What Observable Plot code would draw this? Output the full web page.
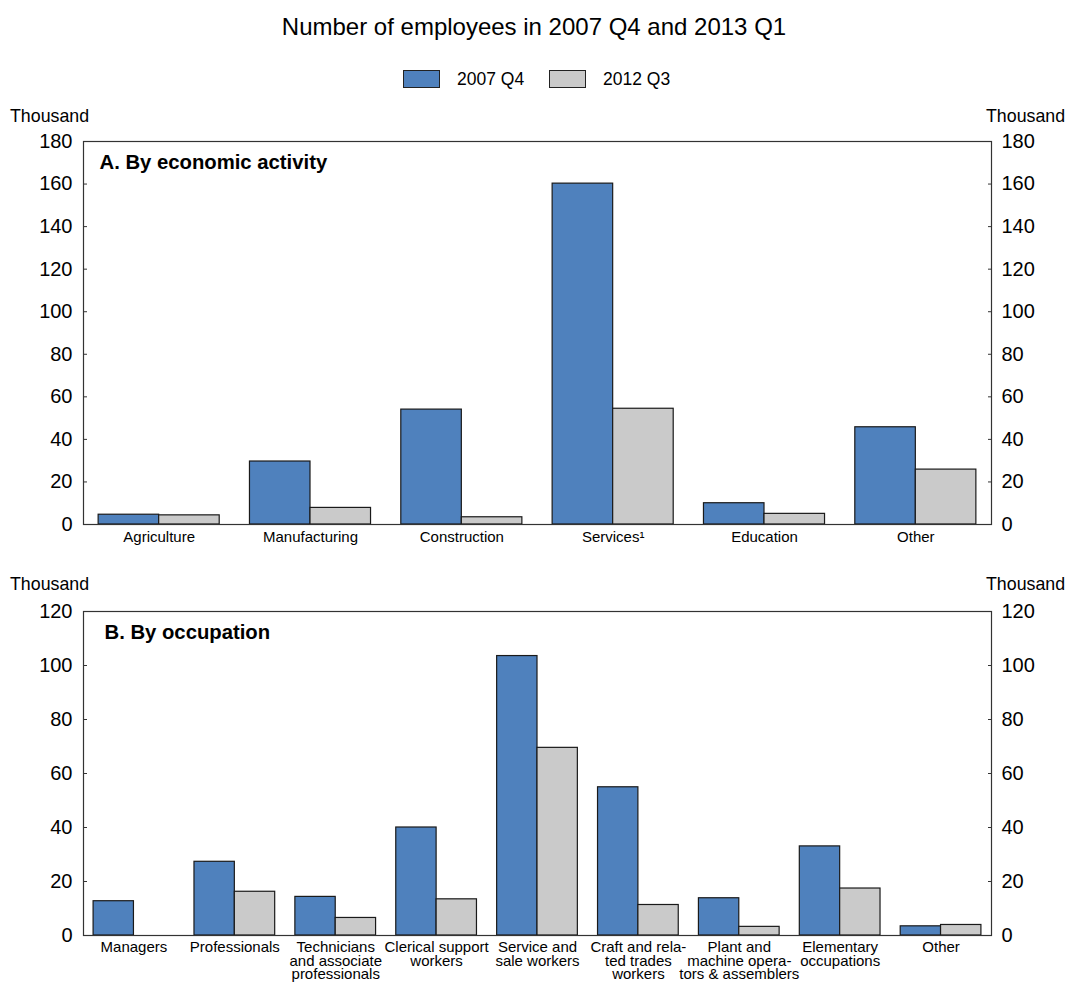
<!DOCTYPE html>
<html>
<head>
<meta charset="utf-8">
<script src="https://cdn.jsdelivr.net/npm/d3@7"></script>
<script src="https://cdn.jsdelivr.net/npm/@observablehq/plot@0.6"></script>
<style>
  html, body { margin: 0; padding: 0; background: #fff; }
  body { width: 1068px; height: 982px; position: relative; font-family: "Liberation Sans", Arial, sans-serif; color: #000; }
  .abs { position: absolute; white-space: nowrap; z-index: 2; }
  #title { left: 0; width: 1068px; top: 13px; text-align: center; font-size: 24px; }
  .sw { position: absolute; width: 37px; height: 18px; border: 1px solid #222; box-sizing: border-box; z-index: 2; }
  .lg { font-size: 17.5px; }
  .unit { font-size: 17.8px; }
  #p1, #p2 { position: absolute; left: 0; z-index: 1; }
  #p1 { top: 100px; }
  #p2 { top: 570px; }
</style>
</head>
<body>
<div id="p1"></div>
<div id="p2"></div>

<div id="title" class="abs">Number of employees in 2007 Q4 and 2013 Q1</div>
<div class="sw" style="left:403px; top:70px; background:#4f81bd;"></div>
<div class="abs lg" style="left:457px; top:69px;">2007 Q4</div>
<div class="sw" style="left:549px; top:70px; background:#cacaca;"></div>
<div class="abs lg" style="left:603px; top:69px;">2012 Q3</div>

<div class="abs unit" style="left:10px; top:106px;">Thousand</div>
<div class="abs unit" style="left:986px; top:106px;">Thousand</div>
<div class="abs unit" style="left:10px; top:574px;">Thousand</div>
<div class="abs unit" style="left:986px; top:574px;">Thousand</div>

<script>
// ---- Data ----
const seriesNames = ["2007 Q4", "2012 Q3"];
const seriesColors = ["#4f81bd", "#cacaca"];

const activityCategories = ["Agriculture", "Manufacturing", "Construction", "Services¹", "Education", "Other"];
const activity2007Q4 = [4.6, 29.6, 54.0, 160.2, 10.0, 45.7];
const activity2012Q3 = [4.3, 7.8, 3.4, 54.4, 5.0, 25.8];
const activityTicks = [0, 20, 40, 60, 80, 100, 120, 140, 160, 180];

const occupationCategories = [
  "Managers",
  "Professionals",
  "Technicians\nand associate\nprofessionals",
  "Clerical support\nworkers",
  "Service and\nsale workers",
  "Craft and rela-\nted trades\nworkers",
  "Plant and\nmachine opera-\ntors & assemblers",
  "Elementary\noccupations",
  "Other"
];
const occupation2007Q4 = [12.7, 27.3, 14.3, 40.0, 103.5, 54.9, 13.8, 33.0, 3.4];
const occupation2012Q3 = [0, 16.2, 6.5, 13.4, 69.5, 11.3, 3.2, 17.4, 3.9];
const occupationTicks = [0, 20, 40, 60, 80, 100, 120];

// ---- Chart builder ----
function panel({categories, a, b, ticks, title, height, marginBottom, labelFont, lineHeight, titleDx}) {
  const n = categories.length;
  const half = 0.4; // each series takes 0.4 of a category step; groups use 0.8
  const rows = [];
  categories.forEach((c, i) => {
    rows.push({i, s: 0, x1: i - half, x2: i, v: a[i]});
    rows.push({i, s: 1, x1: i, x2: i + half, v: b[i]});
  });
  const ymax = ticks[ticks.length - 1];
  return Plot.plot({
    width: 1068,
    height,
    marginLeft: 83,
    marginRight: 77,
    marginTop: 41,
    marginBottom,
    style: {fontFamily: "'Liberation Sans', Arial, sans-serif", color: "#000", background: "transparent"},
    x: {type: "linear", domain: [-0.5, n - 0.5]},
    y: {domain: [0, ymax], nice: false},
    marks: [
      Plot.rect(rows.filter(d => d.s === 0), {x1: "x1", x2: "x2", y1: 0, y2: "v", fill: seriesColors[0], stroke: "#1a1a1a", strokeWidth: 1.2}),
      Plot.rect(rows.filter(d => d.s === 1 && d.v > 0), {x1: "x1", x2: "x2", y1: 0, y2: "v", fill: seriesColors[1], stroke: "#1a1a1a", strokeWidth: 1.2}),
      Plot.frame({stroke: "#333", strokeWidth: 1.2}),
      // y tick marks pointing inward
      Plot.axisY(ticks, {anchor: "left", tickSize: 4, dx: 4, text: null, label: null, stroke: "#333"}),
      Plot.axisY(ticks, {anchor: "right", tickSize: 4, dx: -4, text: null, label: null, stroke: "#333"}),
      // y tick labels
      Plot.axisY(ticks, {anchor: "left", tickSize: 0, tickPadding: 11, label: null, fontSize: 20, fill: "#000"}),
      Plot.axisY(ticks, {anchor: "right", tickSize: 0, tickPadding: 10, label: null, fontSize: 20, fill: "#000"}),
      // category labels
      Plot.axisX(d3.range(n), {anchor: "bottom", tickSize: 0, tickPadding: 7, label: null,
        tickFormat: i => categories[i], fontSize: labelFont, lineHeight, fill: "#000"}),
      Plot.text([title], {frameAnchor: "top-left", dx: titleDx, dy: 21, text: d => d, textAnchor: "start",
        lineAnchor: "middle", fontWeight: "bold", fontSize: 20.3, fill: "#000"})
    ]
  });
}

document.getElementById("p1").append(panel({
  categories: activityCategories, a: activity2007Q4, b: activity2012Q3, ticks: activityTicks,
  title: "A. By economic activity", height: 464, marginBottom: 40, labelFont: 15, lineHeight: 1, titleDx: 16
}));
document.getElementById("p2").append(panel({
  categories: occupationCategories, a: occupation2007Q4, b: occupation2012Q3, ticks: occupationTicks,
  title: "B. By occupation", height: 412, marginBottom: 47, labelFont: 15, lineHeight: 0.9, titleDx: 21
}));
</script>
</body>
</html>
